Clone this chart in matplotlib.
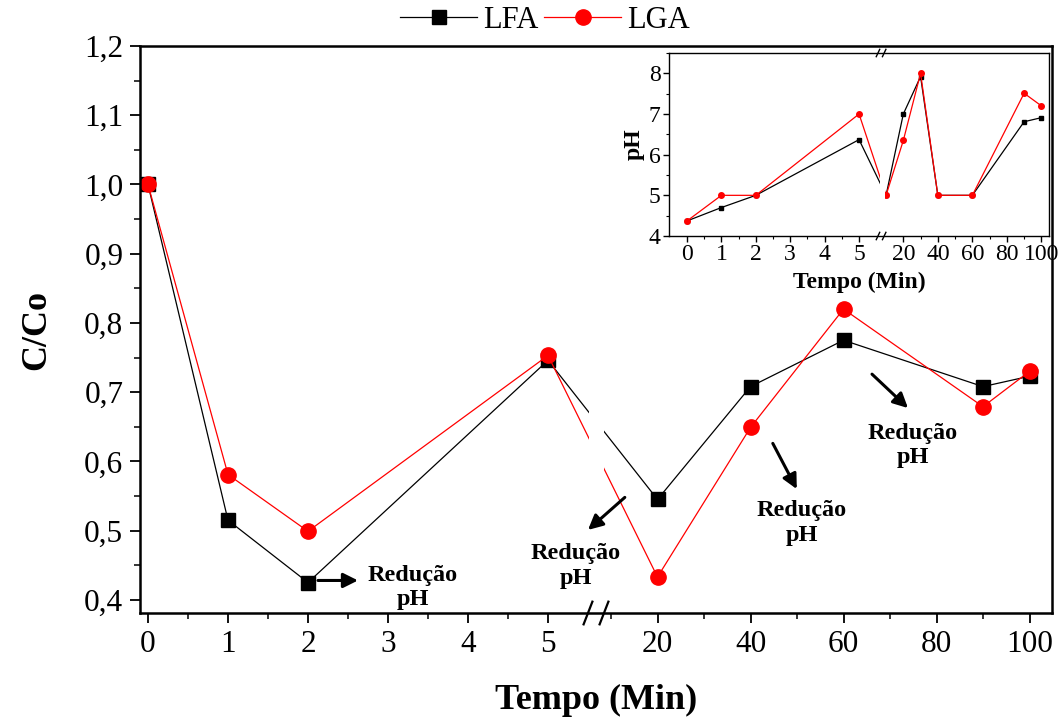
import numpy as np
import matplotlib.pyplot as plt
from matplotlib.patches import Rectangle
from matplotlib.ticker import FixedLocator, FuncFormatter

plt.rcParams['font.family'] = ['Liberation Serif', 'DejaVu Serif']

# Datos (C/Co)
tempo = [0, 1, 2, 5, 20, 40, 60, 90, 100]
lfa = [1.0, 0.515, 0.425, 0.746, 0.545, 0.708, 0.775, 0.708, 0.723]
lga = [1.0, 0.581, 0.499, 0.753, 0.433, 0.649, 0.820, 0.679, 0.730]

# Datos del inset (pH)
tempo_ph = [0, 1, 2, 5, 10, 20, 30, 40, 60, 90, 100]
ph_lfa = [4.37, 4.70, 5.0, 6.37, 5.0, 7.0, 7.92, 5.0, 5.0, 6.81, 6.91]
ph_lga = [4.37, 5.0, 5.0, 7.0, 5.0, 6.35, 8.0, 5.0, 5.0, 7.51, 7.2]

ticks_1 = [0, 1, 2, 3, 4, 5]
ticks_2 = [20, 40, 60, 80, 100]


# eje x partido: 0-5.5 normal, 10-100 comprimido
def pos_main(x):
    x = np.asarray(x, dtype=float)
    return np.where(x <= 5.5, x, 5.7875 + (x - 10) * 0.058125)


def pos_ins(x):
    x = np.asarray(x, dtype=float)
    return np.where(x <= 5.6, x, 5.785 + (x - 10) * 0.05015)


fig = plt.figure(figsize=(10.64, 7.22), dpi=100)
ax = fig.add_axes([140 / 1064, 109 / 722, 912 / 1064, 567 / 722])

ax.plot(pos_main(tempo), lfa, '-s', color='black', lw=0.9, ms=9.5, label='LFA', zorder=2)
ax.plot(pos_main(tempo), lga, '-o', color='red', lw=0.9, ms=11, label='LGA', zorder=2)
ax.add_patch(Rectangle((5.51, 0.382), 0.19, 0.815, facecolor='white', edgecolor='none', zorder=2.2))

ax.set_xlim(-0.1, 11.3)
ax.set_ylim(0.381, 1.2)
ax.xaxis.set_major_locator(FixedLocator(pos_main(ticks_1 + ticks_2)))
ax.xaxis.set_minor_locator(FixedLocator(pos_main([0.5, 1.5, 2.5, 3.5, 4.5, 10, 30, 50, 70, 90])))
ax.set_xticklabels([str(t) for t in ticks_1 + ticks_2])
ax.set_yticks(np.arange(0.4, 1.21, 0.1))
ax.set_yticks(np.arange(0.45, 1.2, 0.1), minor=True)
ax.yaxis.set_major_formatter(FuncFormatter(lambda v, p: f'{v:.1f}'.replace('.', ',')))
ax.tick_params(which='major', direction='out', length=7, width=1.3, labelsize=22.5, pad=5)
ax.tick_params(which='minor', direction='out', length=4, width=1.1)
for s in ax.spines.values():
    s.set_linewidth(1.8)

# marcas de ruptura
for xb in [5.5, 5.7]:
    ax.plot([xb - 0.055, xb + 0.055], [-0.02, 0.02], color='black', lw=1.6,
            transform=ax.get_xaxis_transform(), clip_on=False, zorder=5)

ax.set_xlabel('Tempo (Min)', fontsize=26, fontweight='bold', labelpad=18)
ax.set_ylabel('C/Co', fontsize=26, fontweight='bold', labelpad=22)

ax.legend(loc='center', bbox_to_anchor=(545 / 1064, 1 - 20 / 722), bbox_transform=fig.transFigure,
          ncol=2, frameon=False, fontsize=22, handlelength=2.5, handletextpad=0.2,
          columnspacing=0.2, borderaxespad=0)

# anotaciones
kw = dict(fontsize=17.5, fontweight='bold', ha='center', va='center', linespacing=1.2, zorder=6)
arr = dict(arrowstyle='-|>', lw=2.2, color='black', mutation_scale=22, shrinkA=0, shrinkB=0)
notas = [((2.125, 0.428), (2.625, 0.428), (3.31, 0.418)),
         ((5.96, 0.548), (5.50, 0.501), (5.35, 0.449)),
         ((7.81, 0.626), (8.11, 0.560), (8.175, 0.511)),
         ((9.05, 0.726), (9.50, 0.677), (9.5625, 0.623))]
for ini, fin, txt in notas:
    ax.annotate('', xy=fin, xytext=ini, arrowprops=arr, zorder=6)
    ax.text(txt[0], txt[1], 'Redução\npH', **kw)

# inset pH
ins = fig.add_axes([669 / 1064, 486 / 722, 380 / 1064, 183 / 722])
ins.plot(pos_ins(tempo_ph), ph_lfa, '-s', color='black', lw=0.9, ms=3, zorder=2)
ins.plot(pos_ins(tempo_ph), ph_lga, '-o', color='red', lw=0.9, ms=4, zorder=2)
ins.add_patch(Rectangle((5.6, 4.01), 0.15, 4.48, facecolor='white', edgecolor='none', zorder=2.2))
ins.set_xlim(-0.523, 10.52)
ins.set_ylim(4, 8.49)
ins.xaxis.set_major_locator(FixedLocator(pos_ins(ticks_1 + ticks_2)))
ins.xaxis.set_minor_locator(FixedLocator(pos_ins([0.5, 1.5, 2.5, 3.5, 4.5, 30, 50, 70, 90])))
ins.set_xticklabels([str(t) for t in ticks_1 + ticks_2])
ins.set_yticks([4, 5, 6, 7, 8])
ins.set_yticks([4.5, 5.5, 6.5, 7.5, 8.5], minor=True)
ins.tick_params(which='major', direction='out', length=4, width=1, labelsize=17, pad=2)
ins.tick_params(which='minor', direction='out', length=2.5, width=0.8)
for s in ins.spines.values():
    s.set_linewidth(1.0)
for xb in [5.55, 5.73]:
    for yb in [0, 1]:
        ins.plot([xb - 0.05, xb + 0.05], [yb - 0.02, yb + 0.02], color='black', lw=1,
                 transform=ins.get_xaxis_transform(), clip_on=False, zorder=5)
ins.set_xlabel('Tempo (Min)', fontsize=17, fontweight='bold', labelpad=5)
ins.set_ylabel('pH', fontsize=17, fontweight='bold', labelpad=3)

fig.savefig('out.png', dpi=100)
